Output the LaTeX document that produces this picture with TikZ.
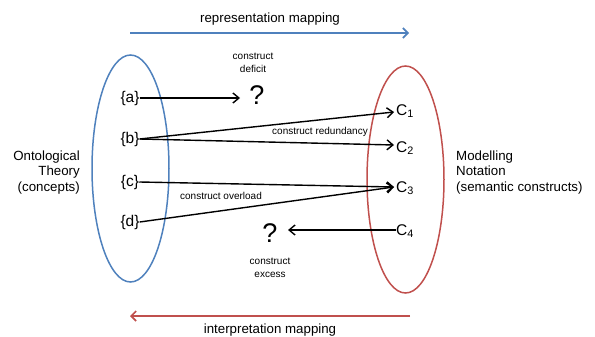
\documentclass[tikz,border=0pt]{standalone}
\usepackage{fontspec}
\setmainfont{Liberation Sans}
\usetikzlibrary{arrows.meta}
\definecolor{myblue}{RGB}{79,129,189}
\definecolor{myred}{RGB}{192,80,77}
\begin{document}
\begin{tikzpicture}[x=1pt,y=-1pt,
  lbl/.style={inner sep=0pt,font=\fontsize{13.3}{15.5}\selectfont},
  small/.style={inner sep=0pt,font=\fontsize{10}{13}\selectfont,align=center},
  elem/.style={inner sep=0pt,font=\fontsize{15.5}{17}\selectfont},
  qm/.style={inner sep=0pt,font=\fontsize{27}{29}\selectfont},
  conn/.style={line width=1.4pt,-{Straight Barb[length=6pt,width=10pt,line width=1.4pt]}},
  map/.style={line width=1.8pt,-{Straight Barb[length=5pt,width=10pt,line width=1.6pt]}}]
\useasboundingbox (0,0) rectangle (595,337);
% ellipses
\draw[myblue,line width=1.5pt] (130.5,168.5) ellipse [x radius=38.5, y radius=113.5];
\draw[myred,line width=1.5pt] (405.5,179.5) ellipse [x radius=38.5, y radius=113.5];
% mapping arrows
\coordinate (rs) at (130,33); \coordinate (re) at (409,33);
\coordinate (is) at (410,316); \coordinate (ie) at (130,316);
\draw[map,myblue] (rs) -- (re);
\draw[map,myred] (is) -- (ie);
\node[lbl] (rm) at (270,19) {representation mapping};
\node[lbl] (im) at (270,330) {interpretation mapping};
% side labels
\node[lbl,align=right,anchor=east] (ont) at (80,172.5) {Ontological\\Theory\\(concepts)};
\node[lbl,align=left,anchor=west] (mod) at (456,172.5) {Modelling\\Notation\\(semantic constructs)};
% elements
\node[elem] (a) at (130,98) {\{a\}};
\node[elem] (b) at (130,139) {\{b\}};
\node[elem] (c) at (130,182) {\{c\}};
\node[elem] (d) at (130,222) {\{d\}};
\node[elem] (c1) at (405,111) {C\textsubscript{1}};
\node[elem] (c2) at (405,148) {C\textsubscript{2}};
\node[elem] (c3) at (405,188) {C\textsubscript{3}};
\node[elem] (c4) at (405,231) {C\textsubscript{4}};
\node[qm] (q1) at (257,95) {?};
\node[qm] (q2) at (270,233) {?};
\coordinate (q1t) at (240,98);
\coordinate (q2t) at (288,230);
\coordinate (c1t) at (394,112);
\coordinate (c2t) at (394,145);
\coordinate (c3t) at (394,187);
\coordinate (c4s) at (396,230);
\node[small] (def) at (253,62.5) {construct\\deficit};
\node[small] (exc) at (270,268) {construct\\excess};
\node[small] (red) at (320,132) {construct redundancy};
\node[small] (ovl) at (221,196) {construct overload};
% connectors
\draw[conn] (a.east) -- (q1t);
\draw[conn] (b.east) -- (c1t);
\draw[conn] (b.east) -- (c2t);
\draw[conn] (c.east) -- (c3t);
\draw[conn] (d.east) -- (c3t);
\draw[conn] (c4s) -- (q2t);
\end{tikzpicture}
\end{document}
